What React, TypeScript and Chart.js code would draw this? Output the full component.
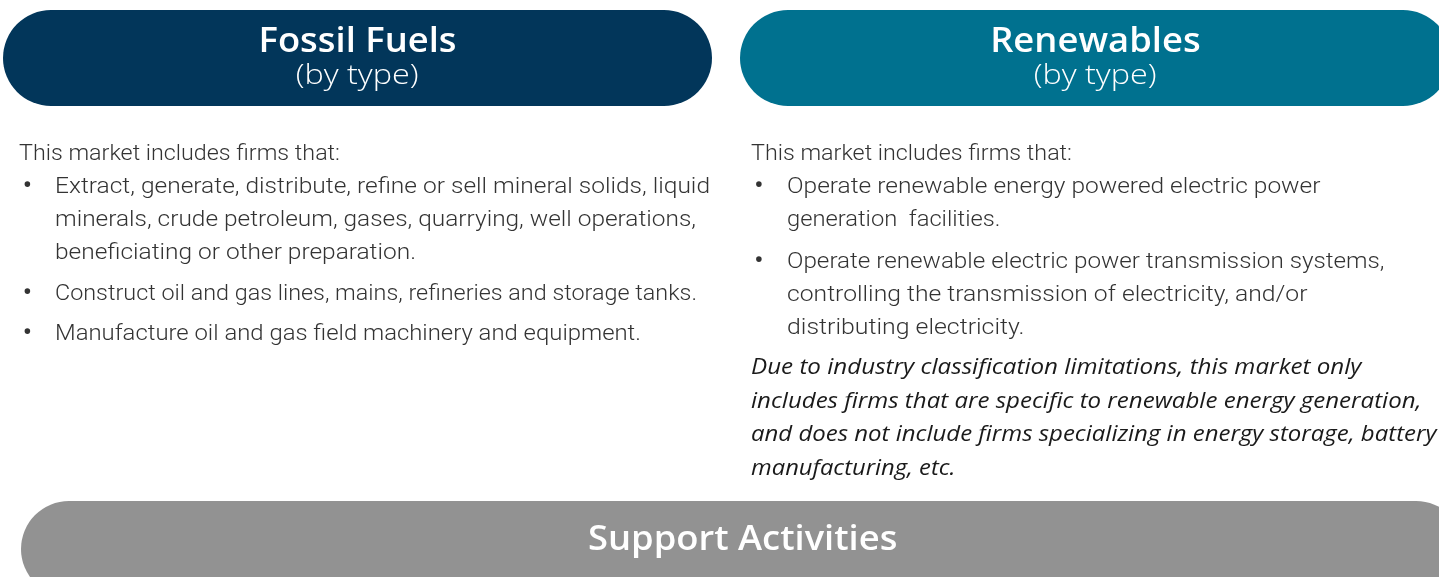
import React, { useEffect, useMemo, useRef } from "react";
import { Chart, registerables } from "chart.js";

Chart.register(...registerables);

// ---------- content ----------
const pillTitles = ["Fossil Fuels", "Renewables", "Support Activities"];
const pillSubtitles = ["(by type)", "(by type)", ""];
const pillColors = ["#02365A", "#00718F", "#929292"];

const introText = "This market includes firms that:";
const fossilBullets = [
  [
    "Extract, generate, distribute, refine or sell mineral solids, liquid",
    "minerals, crude petroleum, gases, quarrying, well operations,",
    "beneficiating or other preparation.",
  ],
  ["Construct oil and gas lines, mains, refineries and storage tanks."],
  ["Manufacture oil and gas field machinery and equipment."],
];
const renewableBullets = [
  ["Operate renewable energy powered electric power", "generation  facilities."],
  [
    "Operate renewable electric power transmission systems,",
    "controlling the transmission of electricity, and/or",
    "distributing electricity.",
  ],
];
const renewableNote = [
  "Due to industry classification limitations, this market only",
  "includes firms that are specific to renewable energy generation,",
  "and does not include firms specializing in energy storage, battery",
  "manufacturing, etc.",
];

// ---------- layout (pixels) ----------
const W = 1439;
const H = 577;
const PILL_X = [
  [3, 712],
  [740, 1451],
  [21, 1464],
];
const PILL_Y = [58, 58, 549];
const PILL_H = 96;

// column left edges and right edges of each text line (text is fitted to these)
const COL_X = [19, 750.5];
const INTRO_RIGHT = [340, 1071.5];
const FOSSIL_RIGHT = [[710, 696, 416], [697], [641]];
const RENEW_RIGHT = [[1320, 1000], [1384, 1307, 1024]];
const NOTE_X = 750.5;
const NOTE_RIGHT = [1361, 1421, 1436, 955];

const TITLE_FONT = { family: '"Open Sans", sans-serif', weight: 600, size: 34, style: "normal" };
const SUB_FONT = { family: '"Open Sans", sans-serif', weight: 300, size: 28, style: "normal" };
const BODY_FONT = { family: "Roboto, sans-serif", weight: 300, size: 22, style: "normal" };
const BULLET_FONT = { family: "Roboto, sans-serif", weight: 700, size: 24, style: "normal" };
const NOTE_FONT = { family: '"Open Sans", sans-serif', weight: 400, size: 22, style: "italic" };

type F = typeof TITLE_FONT;
const fontStr = (f: F) => `${f.style} ${f.weight} ${f.size}px ${f.family}`;

let measureCtx: CanvasRenderingContext2D | null = null;
function measure(f: F, text: string) {
  if (!measureCtx) measureCtx = document.createElement("canvas").getContext("2d")!;
  measureCtx.font = fontStr(f);
  return measureCtx.measureText(text).width || 1;
}

const fontCss = (f: F): React.CSSProperties => ({
  fontFamily: f.family,
  fontWeight: f.weight,
  fontSize: f.size,
  fontStyle: f.style as any,
});

function TextLine(props: {
  text: string;
  f: F;
  left: number;
  right?: number;
  top: number;
  lh: number;
  color: string;
}) {
  const { text, f, left, right, top, lh, color } = props;
  const k = right ? (right - left) / measure(f, text) : 1;
  return (
    <div
      style={{
        position: "absolute",
        left,
        top,
        height: lh,
        lineHeight: `${lh}px`,
        whiteSpace: "pre",
        color,
        ...fontCss(f),
      }}
    >
      <span style={{ display: "inline-block", transform: `scaleX(${k})`, transformOrigin: "left center" }}>
        {text}
      </span>
    </div>
  );
}

function CenterLine(props: { text: string; f: F; k: number; cx: number; top: number; lh: number; color: string }) {
  const { text, f, k, cx, top, lh, color } = props;
  return (
    <div
      style={{
        position: "absolute",
        left: cx - 400,
        width: 800,
        top,
        height: lh,
        lineHeight: `${lh}px`,
        textAlign: "center",
        whiteSpace: "pre",
        color,
        ...fontCss(f),
      }}
    >
      <span style={{ display: "inline-block", transform: `scaleX(${k})`, transformOrigin: "center center" }}>
        {text}
      </span>
    </div>
  );
}

export default function App() {
  const canvasRef = useRef<HTMLCanvasElement>(null);

  useEffect(() => {
    const canvas = canvasRef.current!;
    const chart = new Chart(canvas, {
      type: "bar",
      data: {
        labels: pillTitles,
        datasets: [
          {
            data: pillTitles.map((_, i) => ({ x: PILL_X[i], y: PILL_Y[i] })) as any,
            backgroundColor: pillColors,
            borderRadius: PILL_H / 2,
            borderSkipped: false,
            borderWidth: 0,
            barThickness: PILL_H,
            inflateAmount: 0,
          } as any,
        ],
      },
      options: {
        indexAxis: "y",
        responsive: false,
        animation: false,
        devicePixelRatio: 1,
        events: [],
        layout: { padding: 0 },
        scales: {
          x: { type: "linear", min: 0, max: W, display: false, offset: false },
          y: { type: "linear", min: 0, max: H, reverse: true, display: false, offset: false },
        },
        plugins: { legend: { display: false }, tooltip: { enabled: false } },
      },
    });
    return () => chart.destroy();
  }, []);

  const k = useMemo(
    () => ({
      title: 198 / measure(TITLE_FONT, pillTitles[0]),
      sub: 123 / measure(SUB_FONT, pillSubtitles[0]),
    }),
    []
  );

  const BODY_COLOR = "#333333";
  const NOTE_COLOR = "#1a1a1a";
  const LH = 33;

  const column = (ci: number, bullets: string[][], rights: number[][], gaps: number[], top0: number) => {
    const x0 = COL_X[ci];
    const out: React.ReactNode[] = [];
    let top = top0;
    out.push(
      <TextLine key="intro" text={introText} f={BODY_FONT} left={x0} right={INTRO_RIGHT[ci]} top={top} lh={LH} color={BODY_COLOR} />
    );
    top += LH;
    bullets.forEach((lines, bi) => {
      top += gaps[bi];
      out.push(
        <TextLine key={`b${bi}`} text={"•"} f={BULLET_FONT} left={x0 + 4} top={top} lh={LH} color={BODY_COLOR} />
      );
      lines.forEach((ln, li) => {
        out.push(
          <TextLine
            key={`l${bi}-${li}`}
            text={ln}
            f={BODY_FONT}
            left={x0 + 36}
            right={rights[bi][li]}
            top={top}
            lh={LH}
            color={BODY_COLOR}
          />
        );
        top += LH;
      });
    });
    return out;
  };

  const left = column(0, fossilBullets, FOSSIL_RIGHT, [0, 8, 7], 136);
  const right = column(1, renewableBullets, RENEW_RIGHT, [0, 9], 136);
  const NOTE_LH = 33.5;
  const noteTop = 349;

  const titleCx = PILL_X.map(([a, b]) => (a + b) / 2);

  return (
    <div style={{ position: "absolute", left: 0, top: 0, width: W, height: H, overflow: "hidden", background: "#fff" }}>
      <canvas ref={canvasRef} width={W} height={H} style={{ position: "absolute", left: 0, top: 0, width: W, height: H }} />
      <CenterLine text={pillTitles[0]} f={TITLE_FONT} k={k.title} cx={titleCx[0]} top={21.5} lh={34} color="#fff" />
      <CenterLine text={pillSubtitles[0]} f={SUB_FONT} k={k.sub} cx={titleCx[0]} top={59} lh={28} color="#fff" />
      <CenterLine text={pillTitles[1]} f={TITLE_FONT} k={k.title} cx={titleCx[1]} top={21.5} lh={34} color="#fff" />
      <CenterLine text={pillSubtitles[1]} f={SUB_FONT} k={k.sub} cx={titleCx[1]} top={59} lh={28} color="#fff" />
      <CenterLine text={pillTitles[2]} f={TITLE_FONT} k={k.title} cx={titleCx[2]} top={520} lh={34} color="#fff" />
      {left}
      {right}
      {renewableNote.map((ln, i) => (
        <TextLine
          key={`n${i}`}
          text={ln}
          f={NOTE_FONT}
          left={NOTE_X}
          right={NOTE_RIGHT[i]}
          top={noteTop + i * NOTE_LH}
          lh={NOTE_LH}
          color={NOTE_COLOR}
        />
      ))}
    </div>
  );
}
